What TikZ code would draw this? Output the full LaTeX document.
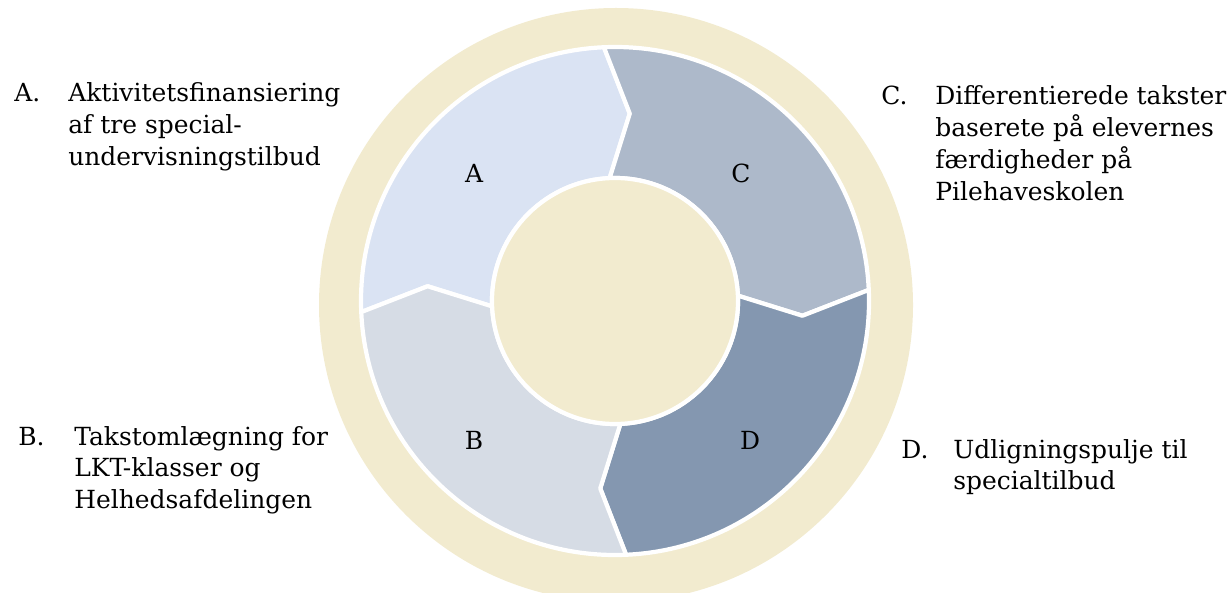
\documentclass[tikz,border=0pt]{standalone}
\usepackage{fontspec}
\setmainfont{DejaVu Serif}
\usetikzlibrary{positioning}

\definecolor{sand}{RGB}{242,235,207}
\definecolor{segA}{RGB}{218,227,243}
\definecolor{segB}{RGB}{214,220,229}
\definecolor{segC}{RGB}{173,185,202}
\definecolor{segD}{RGB}{132,151,176}

% lines of a note, baseline at the first line
\newcommand{\notelines}[1]{\begin{tabular}[t]{@{}l@{}}#1\end{tabular}}

\begin{document}
\begin{tikzpicture}[x=0.02cm, y=0.02cm,
    seg/.style={draw=white, line width=2.4pt, line join=round},
    lbl/.style={font=\fontsize{14.2}{18.2}\selectfont, inner sep=0pt, anchor=base west}]
  \useasboundingbox (0,0) rectangle (1229,592);

  % outer sand disc
  \fill[sand] (616,287) circle (297);

  % four arrow segments of the ring, clockwise A -> C -> D -> B
  \begin{scope}[shift={(615,291)}]
    \foreach \s/\c in {182.5/segA, 92.5/segC, 2.5/segD, -87.5/segB}
      \filldraw[seg, fill=\c] (\s:254) arc[start angle=\s, end angle=\s-90, radius=254]
        -- (\s-97:188) -- (\s-90:123) arc[start angle=\s-90, end angle=\s, radius=123]
        -- (\s-7:188) -- cycle;
    \filldraw[seg, fill=sand] (0,0) circle (123);
  \end{scope}

  \node (secA) at (474,419) [lbl, anchor=center] {A};
  \node (secC) at (741,419) [lbl, anchor=center] {C};
  \node (secB) at (474,152) [lbl, anchor=center] {B};
  \node (secD) at (750,152) [lbl, anchor=center] {D};

  \node (numA) at (14,490)  [lbl] {A.};
  \node (numB) at (18,147)  [lbl] {B.};
  \node (numC) at (881,487) [lbl] {C.};
  \node (numD) at (901,134) [lbl] {D.};

  \node (txtA) [lbl, right=1.08cm of numA.base west, anchor=base west]
    {\notelines{Aktivitetsfinansiering\\af tre special-\\undervisningstilbud}};
  \node (txtB) [lbl, right=1.12cm of numB.base west, anchor=base west]
    {\notelines{Takstomlægning for\\LKT-klasser og\\Helhedsafdelingen}};
  \node (txtC) [lbl, right=1.08cm of numC.base west, anchor=base west]
    {\notelines{Differentierede takster\\baserete på elevernes\\færdigheder på\\Pilehaveskolen}};
  \node (txtD) [lbl, right=1.04cm of numD.base west, anchor=base west]
    {\notelines{Udligningspulje til\\specialtilbud}};
\end{tikzpicture}
\end{document}
